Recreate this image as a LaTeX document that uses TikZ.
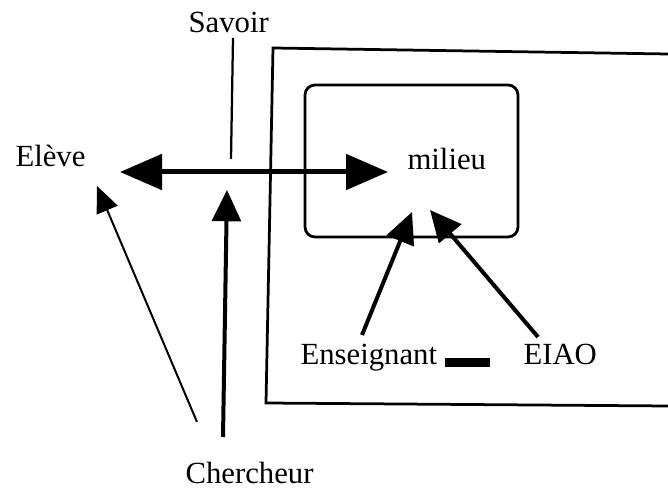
\documentclass[tikz,border=0pt]{standalone}
\usepackage{fontspec}
\setmainfont{Liberation Serif}
\usetikzlibrary{arrows.meta}

\begin{document}
\begin{tikzpicture}[x=0.4pt,y=-0.4pt,
  mot/.style={anchor=base west, inner sep=0pt, font=\fontsize{12.3}{14}\selectfont},
  cadre/.style={line width=1.1pt},
  grosse/.style={line width=2pt, {Triangle[length=16.8pt,width=14pt]}-{Triangle[length=16.8pt,width=14pt]}},
  fleche/.style={line width=1.6pt, -{Triangle[length=12.5pt,width=11.5pt]}},
  fine/.style={line width=0.8pt, -{Triangle[length=10.5pt,width=9pt]}}]
\useasboundingbox (0,0) rectangle (668,492);

\node[mot] (savoir) at (188,33) {Savoir};
\node[mot] (eleve) at (15,167) {Elève};
\node[mot] (milieu) at (407,170) {milieu};
\node[mot] (enseignant) at (300,365) {Enseignant};
\node[mot] (eiao) at (523,365) {EIAO};
\node[mot] (chercheur) at (185,484) {Chercheur};

\draw[cadre] (668,54) -- (273,48) -- (266,403) -- (668,406);
\draw[cadre, rounded corners=4pt] (305,85) rectangle (518,237);
\fill (445,358) rectangle (490,367);

\coordinate (savoirH) at (233,38);
\coordinate (savoirB) at (231,159);
\coordinate (eleveD) at (120,172);
\coordinate (milieuG) at (388,172);
\coordinate (eleveB) at (97,186);
\coordinate (chercheurG) at (197,422);
\coordinate (centre) at (227,190);
\coordinate (chercheurH) at (223,437);
\coordinate (milieuB1) at (412,212);
\coordinate (enseignantH) at (362,335);
\coordinate (milieuB2) at (430,210);
\coordinate (eiaoH) at (538,337);

\draw[line width=0.9pt] (savoirH)--(savoirB);
\draw[grosse] (eleveD)--(milieuG);
\draw[fine] (chercheurG)--(eleveB);
\draw[fleche] (chercheurH)--(centre);
\draw[fleche] (enseignantH)--(milieuB1);
\draw[fleche] (eiaoH)--(milieuB2);
\end{tikzpicture}
\end{document}
